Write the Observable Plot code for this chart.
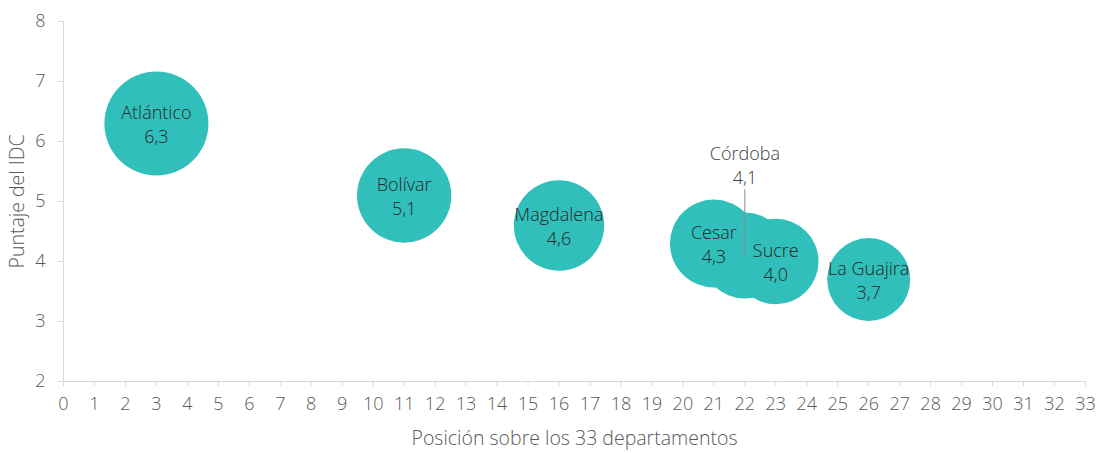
<!DOCTYPE html>
<html>
<head>
<meta charset="utf-8">
<script src="https://cdn.jsdelivr.net/npm/d3@7"></script>
<script src="https://cdn.jsdelivr.net/npm/@observablehq/plot@0.6"></script>
<style>
  html, body { margin: 0; padding: 0; background: #fff; }
  #chart svg { display: block; }
</style>
</head>
<body>
<div id="chart"></div>
<script>
const departamentos = ["Atlántico", "Bolívar", "Magdalena", "Córdoba", "Cesar", "Sucre", "La Guajira"];
const posicion = [3, 11, 16, 22, 21, 23, 26];
const puntaje = [6.3, 5.1, 4.6, 4.1, 4.3, 4.0, 3.7];
const xTicks = d3.range(0, 34);
const yTicks = [2, 3, 4, 5, 6, 7, 8];
const xTitle = "Posición sobre los 33 departamentos";
const yTitle = "Puntaje del IDC";
const calloutDept = "Córdoba";

const data = departamentos.map((d, i) => ({
  dept: d,
  pos: posicion[i],
  val: puntaje[i],
  label: d + "\n" + puntaje[i].toFixed(1).replace(".", ",")
}));
const inside = data.filter(d => d.dept !== calloutDept);
const callout = data.filter(d => d.dept === calloutDept);

const lineShape = {
  draw(context, l) {
    context.moveTo(0, 0);
    context.lineTo(0, -l);
  }
};

const chart = Plot.plot({
  width: 1102,
  height: 453,
  marginLeft: 63,
  marginRight: 17,
  marginTop: 21,
  marginBottom: 72,
  style: { fontFamily: "'Open Sans', sans-serif", fontSize: "18px", fontWeight: 300, color: "#595959", background: "#fff" },
  x: { domain: [0, 33] },
  y: { domain: [2, 8] },
  r: { type: "linear", domain: [3.7, 6.3], range: [41.5, 52] },
  marks: [
    Plot.axisX({ ticks: xTicks, tickFormat: "d", tickSize: 5, tickPadding: 11, fontSize: 18, stroke: "#d9d9d9", fill: "#595959", label: null }),
    Plot.axisY({ ticks: yTicks, tickFormat: "d", tickSize: 5, tickPadding: 13, fontSize: 18, stroke: "#d9d9d9", fill: "#595959", label: null }),
    Plot.text([xTitle], { text: d => d, frameAnchor: "bottom", textAnchor: "middle", dy: 63, fontSize: 19.5, fill: "#595959" }),
    Plot.text([yTitle], { text: d => d, frameAnchor: "left", textAnchor: "middle", lineAnchor: "middle", rotate: -90, dx: -46, fontSize: 19.5, fill: "#595959" }),
    Plot.dot(data, { x: "pos", y: "val", r: "val", fill: "#31BFBC", stroke: "none" }),
    Plot.vector(callout, { x: "pos", y: "val", length: 66, rotate: 0, anchor: "start", shape: lineShape, stroke: "#8c8c8c", strokeWidth: 1 }),
    Plot.text(inside, { x: "pos", y: "val", text: "label", fill: "#262626", fontSize: 18, lineHeight: 1.33 }),
    Plot.text(callout, { x: "pos", y: "val", text: "label", fill: "#404040", fontSize: 18, lineHeight: 1.33, dy: -91 }),
    Plot.ruleY([2], { stroke: "#d9d9d9" }),
    Plot.ruleX([0], { stroke: "#d9d9d9" })
  ]
});
document.getElementById("chart").appendChild(chart);
</script>
</body>
</html>
